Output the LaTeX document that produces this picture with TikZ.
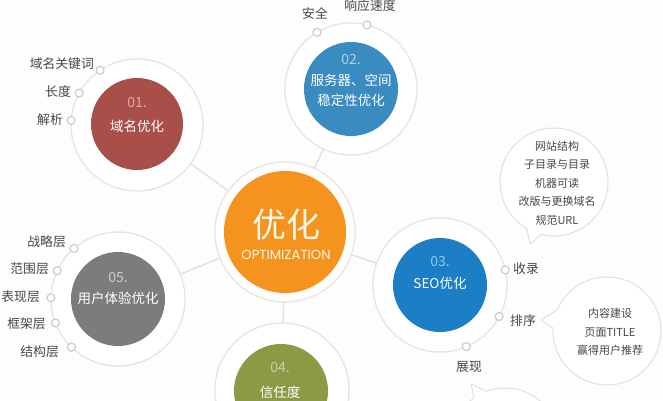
\documentclass[tikz,border=0pt]{standalone}
\usepackage{fontspec}
\setmainfont{Noto Sans CJK SC}
\newfontfamily\latinfont{Poppins}
\definecolor{bgc}{HTML}{FDFDFD}
\definecolor{ringc}{HTML}{E4E4E4}
\definecolor{cringc}{HTML}{EAE4DE}
\definecolor{dotc}{HTML}{D5C3C3}
\definecolor{linkc}{HTML}{DEDEDE}
\definecolor{labc}{HTML}{474747}
\definecolor{bubc}{HTML}{E0E0E0}
\definecolor{redc}{HTML}{A84F4A}
\definecolor{rednum}{HTML}{EBA69C}
\definecolor{blueA}{HTML}{3A8BC0}
\definecolor{blueAnum}{HTML}{A9D2EE}
\definecolor{blueB}{HTML}{1C7EC5}
\definecolor{blueBnum}{HTML}{8FC6EE}
\definecolor{olivec}{HTML}{8C9A45}
\definecolor{olivenum}{HTML}{CBD3A1}
\definecolor{grayc}{HTML}{7C7C7C}
\definecolor{graynum}{HTML}{CDCDCD}
\definecolor{orangec}{HTML}{F4931E}
\definecolor{creamc}{HTML}{FFF8EA}
\tikzset{
  ring/.style={circle, draw=ringc, line width=1.3pt, fill=white, inner sep=0pt, outer sep=0pt, minimum size=#1},
  core/.style={circle, fill=#1, inner sep=0pt, minimum size=94pt},
  dot/.style={circle, draw=dotc, line width=1.1pt, fill=white, inner sep=0pt, minimum size=8pt},
  lab/.style={text=labc, font=\fontsize{12.8}{14}\selectfont, inner sep=0pt},
  num/.style={text=#1, font=\fontsize{14}{16}\selectfont, inner sep=0pt},
  ttl/.style={text=white, font=\fontsize{13.5}{15}\selectfont, inner sep=0pt},
  link/.style={draw=linkc, line width=1.2pt},
  bub/.style={draw=bubc, line width=1pt, fill=white, line join=round},
  btxt/.style={text=labc, font=\fontsize{11}{18.5}\selectfont, align=center, inner sep=0pt},
}
\begin{document}
\begin{tikzpicture}[x=1pt,y=1pt]
\useasboundingbox (0,0) rectangle (663,400);
\clip (0,0) rectangle (663,400);
\fill[bgc] (0,0) rectangle (663,400);

% speech bubbles
\draw[bub] (554,218) ++(256:54) arc[start angle=256, end angle=600, radius=54] -- (530,156) -- cycle;
\draw[bub] (607,69) ++(177:54) arc[start angle=177, end angle=517, radius=54] -- (541,80) -- cycle;
\draw[bub] (505,-42) ++(125:54) arc[start angle=125, end angle=470, radius=54] -- (471,16) -- cycle;
\node[btxt] (bt1) at (557,217) {网站结构\\子目录与目录\\机器可读\\改版与更换域名\\规范URL};
\node[btxt] (bt2) at (610,68) {内容建设\\页面TITLE\\赢得用户推荐};

% rings
\node[ring=140pt, draw=cringc] (r0) at (285,168) {};
\node[ring=132pt] (r1) at (137,275) {};
\node[ring=132pt] (r2) at (351,311) {};
\node[ring=134pt] (r3) at (440,115) {};
\node[ring=134pt] (r4) at (282,10) {};
\node[ring=134pt] (r5) at (118,101) {};

% connectors
\draw[link] (r0) -- (r1);
\draw[link] (r0) -- (r2);
\draw[link] (r0) -- (r3);
\draw[link] (r0) -- (r4);
\draw[link] (r0) -- (r5);

% cores
\node[core=orangec, minimum size=122pt] (c0) at (285,168) {};
\node[core=redc, minimum size=92pt] (c1) at (137,276) {};
\node[core=blueA] (c2) at (351,311) {};
\node[core=blueB] (c3) at (440,115) {};
\node[core=olivec] (c4) at (281,9) {};
\node[core=grayc] (c5) at (118,101) {};

% core texts
\node[text=creamc, font=\fontsize{34}{36}\selectfont, inner sep=0pt] (t0a) at (286,175) {优化};
\node[text=creamc, font=\latinfont\fontsize{13.2}{15}\selectfont, inner sep=0pt] (t0b) at (286,145) {OPTIMIZATION};
\node[num=rednum] (t1a) at (137,297) {01.};
\node[ttl] (t1b) at (137,274) {域名优化};
\node[num=blueAnum] (t2a) at (351,340) {02.};
\node[ttl] (t2b) at (351,320) {服务器、空间};
\node[ttl] (t2c) at (351,300) {稳定性优化};
\node[num=blueBnum] (t3a) at (440,138) {03.};
\node[ttl] (t3b) at (440,117) {SEO优化};
\node[num=olivenum] (t4a) at (280,32) {04.};
\node[ttl] (t4b) at (280,8) {信任度};
\node[num=graynum] (t5a) at (118,122) {05.};
\node[ttl] (t5b) at (118,102) {用户体验优化};

% dots
\node[dot] (d11) at (r1.124) {};
\node[dot] (d12) at (r1.151) {};
\node[dot] (d13) at (r1.176) {};
\node[dot] (d21) at (r2.121) {};
\node[dot] (d22) at (r2.76) {};
\node[dot] (d31) at (r3.13) {};
\node[dot] (d32) at (r3.-28) {};
\node[dot] (d33) at (r3.-67) {};
\node[dot] (d51) at (r5.131) {};
\node[dot] (d52) at (r5.155) {};
\node[dot] (d53) at (r5.179) {};
\node[dot] (d54) at (r5.201) {};
\node[dot] (d55) at (r5.226) {};

% labels
\node[lab, anchor=east] (l11) at (94,336) {域名关键词};
\node[lab, anchor=east] (l12) at (71,308) {长度};
\node[lab, anchor=east] (l13) at (63,280) {解析};
\node[lab] (l21) at (315,386) {安全};
\node[lab] (l22) at (370,394) {响应速度};
\node[lab, anchor=west] (l31) at (513,131) {收录};
\node[lab, anchor=west] (l32) at (510,79) {排序};
\node[lab] (l33) at (469,33) {展现};
\node[lab, anchor=east] (l51) at (66,158) {战略层};
\node[lab, anchor=east] (l52) at (49,131) {范围层};
\node[lab, anchor=east] (l53) at (40,103) {表现层};
\node[lab, anchor=east] (l54) at (46,76) {框架层};
\node[lab, anchor=east] (l55) at (59,48) {结构层};
\end{tikzpicture}
\end{document}
